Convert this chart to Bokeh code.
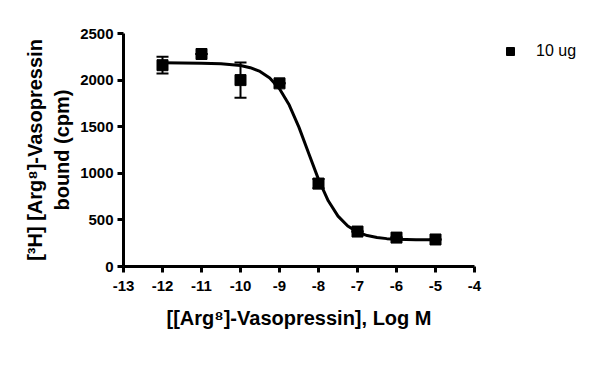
from bokeh.plotting import figure
from bokeh.models import ColumnDataSource, Whisker, Legend, LegendItem, FixedTicker, Range1d
from bokeh.embed import file_html
from bokeh.resources import INLINE

# data points (log M, mean cpm, error)
log_conc = [-12, -11, -10, -9, -8, -7, -6, -5]
bound = [2160, 2280, 2000, 1965, 890, 375, 310, 290]
err = [90, 0, 190, 0, 50, 0, 0, 0]

# fitted curve
curve_x = [-12, -11.5, -11, -10.5, -10, -9.75, -9.5, -9.25, -9, -8.75, -8.5, -8.25,
           -8, -7.75, -7.5, -7.25, -7, -6.75, -6.5, -6.25, -6, -5.5, -5]
curve_y = [2185, 2184, 2182, 2176, 2156, 2133, 2093, 2023, 1908, 1732, 1493, 1212,
           935, 705, 541, 434, 369, 332, 311, 299, 293, 287, 286]

x_ticks = [-13, -12, -11, -10, -9, -8, -7, -6, -5, -4]
x_tick_labels = ["-13", "-12", "-11", "-10", "-9", "-8", "-7", "-6", "-5", "-4"]
y_ticks = [0, 500, 1000, 1500, 2000, 2500]

FONT = "Liberation Sans"

p = figure(frame_width=351, frame_height=233, output_backend="svg", toolbar_location=None,
           x_range=Range1d(-13, -4), y_range=Range1d(0, 2500),
           min_border_left=123, min_border_right=0, min_border_top=33, min_border_bottom=105)
p.outline_line_color = None
p.grid.visible = False
p.background_fill_color = "white"
p.border_fill_color = "white"

src = ColumnDataSource(dict(x=log_conc, y=bound,
                            lo=[b - e for b, e in zip(bound, err)],
                            hi=[b + e for b, e in zip(bound, err)]))

p.line(curve_x, curve_y, line_color="black", line_width=3)
w = Whisker(source=src, base="x", lower="lo", upper="hi", line_color="black", line_width=2)
w.upper_head.size = 12
w.lower_head.size = 12
w.upper_head.line_width = 2
w.lower_head.line_width = 2
p.add_layout(w)
pts = p.scatter("x", "y", source=src, marker="square", size=11, fill_color="black", line_color="black")

for ax in (p.xaxis[0], p.yaxis[0]):
    ax.axis_line_width = 3
    ax.major_tick_line_width = 3
    ax.major_tick_out = 6
    ax.major_tick_in = 0
    ax.minor_tick_line_color = None
    ax.major_label_text_font = FONT
    ax.major_label_text_font_style = "bold"
    ax.major_label_text_font_size = "15px"
    ax.major_label_text_color = "black"
    ax.axis_label_text_font = FONT
    ax.axis_label_text_font_style = "bold"
    ax.axis_label_text_font_size = "20px"
    ax.axis_label_text_color = "black"
    ax.axis_label_text_line_height = 1.25

p.xaxis.ticker = FixedTicker(ticks=x_ticks)
p.xaxis.major_label_overrides = {t: s for t, s in zip(x_ticks, x_tick_labels)}
p.yaxis.ticker = FixedTicker(ticks=y_ticks)
p.xaxis.axis_label = "[[Arg\u2078]-Vasopressin], Log M"
p.yaxis.axis_label = "[\u00b3H] [Arg\u2078]-Vasopressin\nbound (cpm)"
p.xaxis.major_label_standoff = 8
p.yaxis.major_label_standoff = 4
p.xaxis.axis_label_standoff = 13
p.yaxis.axis_label_standoff = 4

legend = Legend(items=[LegendItem(label="10 ug", renderers=[pts])],
                location=(26, 205), border_line_color=None, background_fill_alpha=0,
                label_text_font=FONT, label_text_font_size="16px", label_text_color="black",
                glyph_width=20, glyph_height=20, padding=4, margin=0, label_standoff=16)
p.add_layout(legend, "right")

open("out.html", "w").write(file_html(p, INLINE))
